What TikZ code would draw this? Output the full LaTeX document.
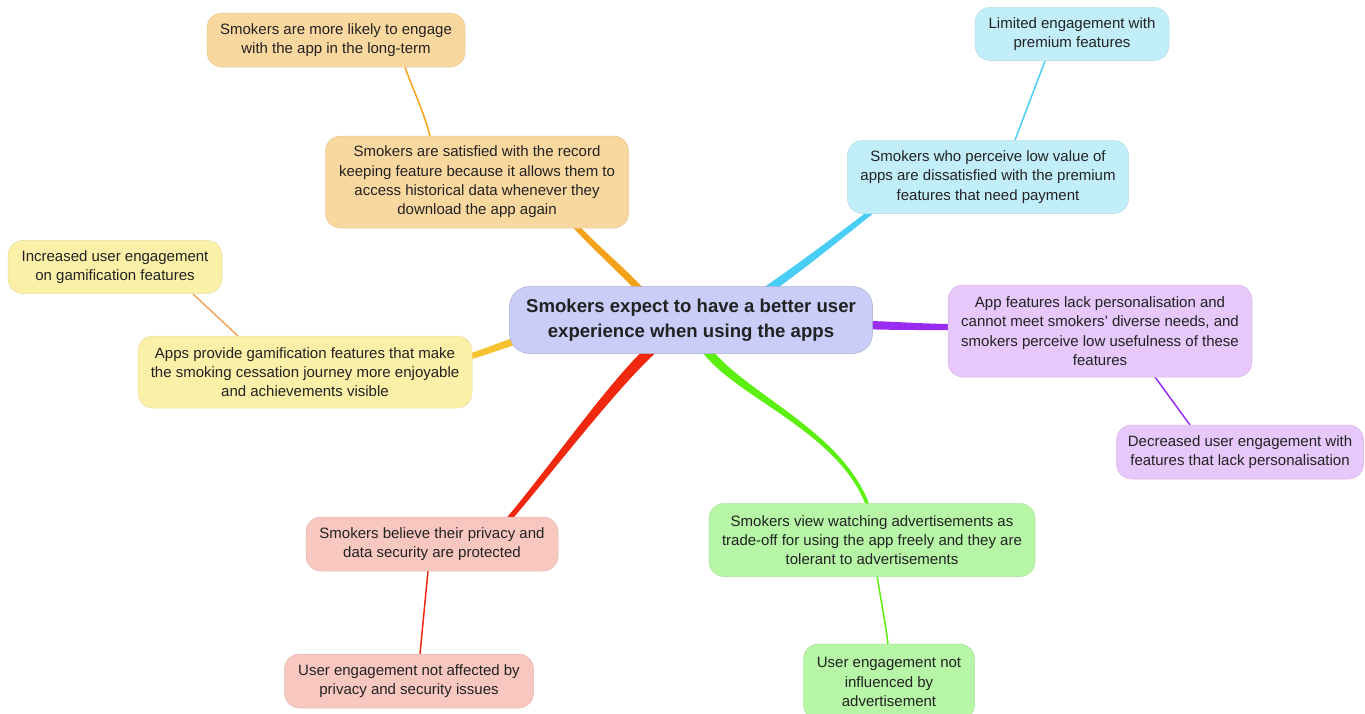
\documentclass[tikz,border=0pt]{standalone}
\usepackage{fontspec}
\setmainfont{Liberation Sans}
\usetikzlibrary{calc,backgrounds}

% colours of the six branches
\definecolor{txt}{HTML}{222222}
\definecolor{hubfill}{HTML}{C9CDF7}
\definecolor{orfill}{HTML}{F9D8A0}  \definecolor{orline}{HTML}{F5A21B}
\definecolor{cyfill}{HTML}{C2EEFA}  \definecolor{cyline}{HTML}{48CDF5}
\definecolor{pufill}{HTML}{E6C8FA}  \definecolor{puline}{HTML}{9A2CF2}
\definecolor{yefill}{HTML}{FAF0A8}  \definecolor{yeline}{HTML}{F7C230}
\definecolor{refill}{HTML}{F8C8C0}  \definecolor{reline}{HTML}{F02810}
\definecolor{grfill}{HTML}{B6F6A6}  \definecolor{grline}{HTML}{5CF010}
\definecolor{yesub}{HTML}{F2A65A}

% tapered branch: colour, start, control 1, control 2, end, half width at start, half width at end
\newcommand\taperbranch[7]{%
  \coordinate (tS) at #2; \coordinate (tA) at #3;
  \coordinate (tB) at #4; \coordinate (tE) at #5;
  \fill[#1] ($(tS)!#6pt!90:(tA)$)
      .. controls ($(tA)!#6pt!-90:(tS)$) and ($(tB)!#7pt!90:(tE)$) .. ($(tE)!#7pt!-90:(tB)$)
      -- ($(tE)!#7pt!90:(tB)$)
      .. controls ($(tB)!#7pt!-90:(tE)$) and ($(tA)!#6pt!90:(tS)$) .. ($(tS)!#6pt!-90:(tA)$)
      -- cycle;
}

\tikzset{
  idea/.style={rounded corners=15pt, align=center, inner sep=0pt, text=txt,
    font=\fontsize{15}{19.3}\selectfont},
  hub/.style={idea, rounded corners=20pt, fill=hubfill, draw=hubfill!85!black, line width=0.5pt,
    font=\bfseries\fontsize{18.6}{24.5}\selectfont},
  orbox/.style={idea, fill=orfill, draw=orfill!92!black, line width=0.5pt},
  cybox/.style={idea, fill=cyfill, draw=cyfill!92!black, line width=0.5pt},
  pubox/.style={idea, fill=pufill, draw=pufill!92!black, line width=0.5pt},
  yebox/.style={idea, fill=yefill, draw=yefill!92!black, line width=0.5pt},
  rebox/.style={idea, fill=refill, draw=refill!92!black, line width=0.5pt},
  grbox/.style={idea, fill=grfill, draw=grfill!92!black, line width=0.5pt},
  twig/.style={line width=1.5pt},
}

\begin{document}
\begin{tikzpicture}[x=1pt,y=-1pt]
\useasboundingbox (0,0) rectangle (1365,713);

% central idea
\node[hub, minimum width=363pt, minimum height=67pt] (c) at (691,320)
  {Smokers expect to have a better user\\experience when using the apps};

% orange branch
\node[orbox, minimum width=303pt, minimum height=92pt] (om) at (477,182)
  {Smokers are satisfied with the record\\keeping feature because it allows them to\\access historical data whenever they\\download the app again};
\node[orbox, minimum width=258pt, minimum height=54pt] (os) at (336,40)
  {Smokers are more likely to engage\\with the app in the long-term};

% cyan branch
\node[cybox, minimum width=281pt, minimum height=73pt] (cm) at (988,177)
  {Smokers who perceive low value of\\apps are dissatisfied with the premium\\features that need payment};
\node[cybox, minimum width=194pt, minimum height=53pt] (cs) at (1072,34)
  {Limited engagement with\\premium features};

% purple branch
\node[pubox, minimum width=304pt, minimum height=92pt] (pm) at (1100,331)
  {App features lack personalisation and\\cannot meet smokers’ diverse needs, and\\smokers perceive low usefulness of these\\features};
\node[pubox, minimum width=247pt, minimum height=54pt] (ps) at (1240,452)
  {Decreased user engagement with\\features that lack personalisation};

% green branch
\node[grbox, minimum width=326pt, minimum height=73pt] (gm) at (872,540)
  {Smokers view watching advertisements as\\trade-off for using the app freely and they are\\tolerant to advertisements};
\node[grbox, minimum width=171pt, minimum height=76pt] (gs) at (889,682)
  {User engagement not\\influenced by\\advertisement};

% red branch
\node[rebox, minimum width=252pt, minimum height=54pt] (rm) at (432,544)
  {Smokers believe their privacy and\\data security are protected};
\node[rebox, minimum width=249pt, minimum height=54pt] (rs) at (409,681)
  {User engagement not affected by\\privacy and security issues};

% yellow branch
\node[yebox, minimum width=334pt, minimum height=72pt] (ym) at (305,372)
  {Apps provide gamification features that make\\the smoking cessation journey more enjoyable\\and achievements visible};
\node[yebox, minimum width=214pt, minimum height=53pt] (ys) at (115,267)
  {Increased user engagement\\on gamification features};

\begin{pgfonlayer}{background}
  % main branches from the central idea
  \taperbranch{orline}{($(c)+(-46,-25)$)}{(620,268)}{(592,245)}{($(om)+(93,38)$)}{3.6}{2.8}
  \taperbranch{cyline}{($(c)+(69,-25)$)}{(800,268)}{(845,232)}{($(cm)+(-108,28)$)}{4.2}{2.6}
  \taperbranch{puline}{($(c)+(174,5)$)}{(900,326)}{(925,327)}{($(pm)+(-145,-4)$)}{4.2}{3}
  \taperbranch{yeline}{($(c)+(-173,20)$)}{(500,346)}{(485,352)}{($(ym)+(160,-14)$)}{3.6}{3}
  \taperbranch{reline}{($(c)+(-40,30)$)}{(610,388)}{(548,474)}{($(rm)+(71,-18)$)}{5.2}{2.6}
  \taperbranch{grline}{($(c)+(12,25)$)}{(735,395)}{(845,430)}{($(gm)+(-2,-28)$)}{4.6}{1.8}

  % links to the consequences
  \draw[twig, orline] ($(om)+(-47,-46)$) .. controls ($(om)+(-53,-70)$) and ($(os)+(75,45)$) .. ($(os)+(69,27)$);
  \draw[twig, cyline] ($(cm)+(27,-37)$) -- ($(cs)+(-27,27)$);
  \draw[twig, puline] ($(pm)+(55,46)$) -- ($(ps)+(-50,-27)$);
  \draw[twig, grline] ($(gm)+(5,36)$) .. controls ($(gm)+(9,60)$) and ($(gs)+(-3,-55)$) .. ($(gs)+(-1,-38)$);
  \draw[twig, reline] ($(rm)+(-4,27)$) -- ($(rs)+(11,-27)$);
  \draw[twig, yesub] ($(ym)+(-67,-36)$) -- ($(ys)+(78,27)$);
\end{pgfonlayer}
\end{tikzpicture}
\end{document}
